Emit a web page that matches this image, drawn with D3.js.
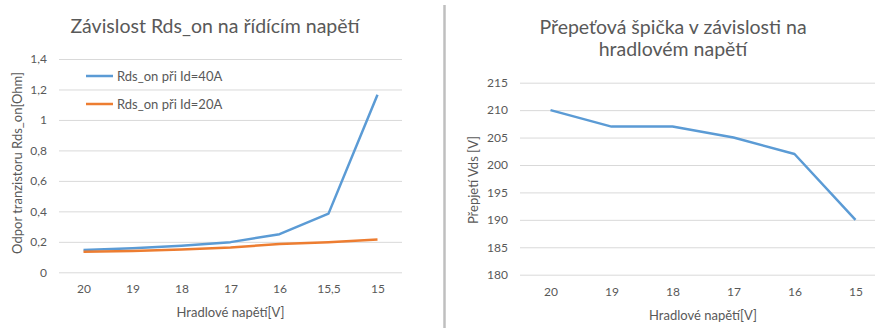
<!DOCTYPE html>
<html><head><meta charset="utf-8">
<script src="https://cdn.jsdelivr.net/npm/d3@7"></script>
<style>
body{margin:0;background:#fff;}
svg text{font-family:Lato,"Open Sans",sans-serif;}
</style></head>
<body><svg id="c" width="875" height="332"></svg>
<script>
// ---- data ----
const leftCategories = ["20","19","18","17","16","15,5","15"];
const rds40 = [0.147, 0.158, 0.175, 0.198, 0.25, 0.385, 1.165];
const rds20 = [0.135, 0.14, 0.15, 0.163, 0.185, 0.197, 0.215];
const leftTicks = [0, 0.2, 0.4, 0.6, 0.8, 1, 1.2, 1.4];
const leftSeriesNames = ["Rds_on při Id=40A", "Rds_on při Id=20A"];

const rightCategories = ["20","19","18","17","16","15"];
const vdsPeak = [210, 207, 207, 205, 202, 190];
const rightTicks = [180, 185, 190, 195, 200, 205, 210, 215];

const blue = "#5B9BD5", orange = "#ED7D31", grid = "#d9d9d9", txt = "#595959";
const svg = d3.select("#c");
const fmt = d => String(d).replace(".", ",");

function drawChart(o) {
  const g = svg.append("g");
  const x = d3.scalePoint().domain(o.cats).range([o.x0, o.x1]).padding(0.5);
  const y = d3.scaleLinear().domain(o.ydom).range([o.yb, o.yt]);
  // gridlines
  g.append("g").attr("transform", `translate(${o.x0},0)`)
    .call(d3.axisLeft(y).tickValues(o.ticks).tickSize(-(o.x1 - o.x0)).tickFormat(""))
    .call(s => s.select(".domain").remove())
    .call(s => s.selectAll("line").attr("stroke", grid).attr("stroke-width", 1));
  // y labels
  g.append("g").attr("transform", `translate(${o.ylabX},0)`)
    .call(d3.axisLeft(y).tickValues(o.ticks).tickSize(0).tickPadding(0).tickFormat(fmt))
    .call(s => s.select(".domain").remove())
    .call(s => s.selectAll("text").attr("fill", txt).style("font-size", "12px").style("font-family", "Lato, sans-serif"));
  // x labels
  g.append("g").attr("transform", `translate(0,${o.xlabY})`)
    .call(d3.axisBottom(x).tickSize(0).tickPadding(0))
    .call(s => s.select(".domain").remove())
    .call(s => s.selectAll("text").attr("fill", txt).style("font-size", "12px").style("font-family", "Lato, sans-serif"));
  // lines
  const line = d3.line().x((d, i) => x(o.cats[i])).y(d => y(d));
  o.series.forEach(s => {
    g.append("path").datum(s.values).attr("d", line).attr("fill", "none")
      .attr("stroke", s.color).attr("stroke-width", 2.5).attr("stroke-linejoin", "round");
  });
  // titles
  const t = g.append("text").attr("text-anchor", "middle").attr("fill", txt)
    .style("font-size", "19.5px");
  o.title.forEach((line, i) => t.append("tspan").attr("x", o.titleX).attr("y", o.titleY + i * 22).text(line));
  g.append("text").attr("x", (o.x0 + o.x1) / 2).attr("y", o.xtitleY).attr("text-anchor", "middle")
    .attr("fill", txt).style("font-size", "13px").text("Hradlové napětí[V]");
  g.append("text").attr("transform", `translate(${o.ytitleX},${o.ytitleY}) rotate(-90)`)
    .attr("text-anchor", "middle").attr("fill", txt).style("font-size", "13px").text(o.ytitle);
  return { x, y, g };
}

drawChart({
  cats: leftCategories, x0: 59, x1: 402, ydom: [0, 1.4], yb: 272.3, yt: 59, ticks: leftTicks,
  ylabX: 47, xlabY: 284,
  series: [{ values: rds40, color: blue }, { values: rds20, color: orange }],
  title: ["Závislost Rds_on na řídícím napětí"], titleX: 215, titleY: 33,
  xtitleY: 317, ytitle: "Odpor  tranzistoru Rds_on[Ohm]", ytitleX: 22, ytitleY: 163
});

drawChart({
  cats: rightCategories, x0: 520, x1: 886, ydom: [180, 215], yb: 274.7, yt: 82.7, ticks: rightTicks,
  ylabX: 508, xlabY: 287,
  series: [{ values: vdsPeak, color: blue }],
  title: ["Přepeťová špička v závislosti na", "hradlovém napětí"], titleX: 673, titleY: 34,
  xtitleY: 320, ytitle: "Přepjetí Vds [V]", ytitleX: 478, ytitleY: 180
});

// legend (left chart)
const legend = svg.append("g");
[[leftSeriesNames[0], blue], [leftSeriesNames[1], orange]].forEach((d, i) => {
  const yy = 76 + i * 28;
  legend.append("line").attr("x1", 86).attr("x2", 113).attr("y1", yy).attr("y2", yy)
    .attr("stroke", d[1]).attr("stroke-width", 2.5);
  legend.append("text").attr("x", 117).attr("y", yy).attr("dy", "0.35em")
    .attr("fill", txt).style("font-size", "13px").text(d[0]);
});

// divider
svg.append("line").attr("x1", 444.5).attr("x2", 444.5).attr("y1", 5).attr("y2", 328)
  .attr("stroke", "#bfbfbf").attr("stroke-width", 2.5);
</script></body></html>
